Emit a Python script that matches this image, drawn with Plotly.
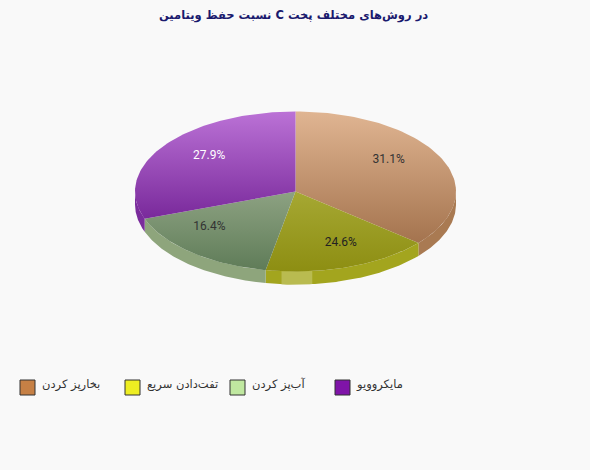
import numpy as np
import plotly.graph_objects as go

title = "در روش‌های مختلف پخت C نسبت حفظ ویتامین"
categories = ["بخارپز کردن", "تفت‌دادن سریع", "آب‌پز کردن", "مایکروویو"]
# percentages printed on the slices
percents = [31.1, 24.6, 16.4, 27.9]
# the tilted pie in the picture does not sweep in proportion to its labels,
# so these are the sweeps (degrees, clockwise from top)
sweeps = [130.0, 60.7, 59.3, 110.0]

legend_colors = ["#c68045", "#eeee22", "#c0e8a0", "#7f14a8"]
top_colors = [("#e0b592", "#a4734e"), ("#a6a833", "#8d8e12"), ("#8da282", "#5f7c58"), ("#bb72d6", "#79299b")]
wall_colors = ["#a97a52", "#a3a51e", "#8ea57c", "#7a2c9c"]
label_colors = ["#333333", "#222222", "#333333", "#ffffff"]

# pixel layout of the page
W, H = 590, 470
cx, cy, rx, ry, depth = 295.5, 191.5, 160.5, 80, 13
label_r = 0.7
legend_x = [27.5, 132.5, 237.5, 342.5]
legend_y = 387.5
legend_text_gap = 14.5
legend_text_y = 385.5


def rim(a0, a1):
    t = np.radians(np.linspace(a0, a1, 80))
    return cx + rx * np.sin(t), cy - ry * np.cos(t)


def wall(a0, a1):
    x, y = rim(a0, a1)
    return np.r_[x, x[::-1], x[0]], np.r_[y, y[::-1] + depth, y[0]]


fig = go.Figure()
edges = np.r_[0, np.cumsum(sweeps)]

# side of the pie first, only the front half shows
for i, c in enumerate(wall_colors):
    a0, a1 = max(edges[i], 90), min(edges[i + 1], 270)
    x, y = wall(a0, a1)
    fig.add_trace(go.Scatter(x=x, y=y, mode="lines", fill="toself", fillcolor=c,
                             line=dict(width=0), hoverinfo="skip"))

# the light reflection on the front of the side
x, y = wall(174, 185)
fig.add_trace(go.Scatter(x=x, y=y, mode="lines", fill="toself", fillcolor="#b9bb50",
                         line=dict(width=0), hoverinfo="skip"))

# top face
for i, (c0, c1) in enumerate(top_colors):
    x, y = rim(edges[i], edges[i + 1])
    fig.add_trace(go.Scatter(x=np.r_[cx, x, cx], y=np.r_[cy, y, cy], mode="lines", fill="toself",
                             fillgradient=dict(type="vertical", colorscale=[[0, c1], [1, c0]]),
                             line=dict(width=0), hoverinfo="skip"))

# slice labels sit at the angle of their percentage
mid = np.radians(3.6 * (np.cumsum(percents) - np.array(percents) / 2))
fig.add_trace(go.Scatter(x=cx + label_r * rx * np.sin(mid), y=cy - label_r * ry * np.cos(mid),
                         mode="text", text=[f"{p}%" for p in percents],
                         textfont=dict(family="Roboto", size=12, color=label_colors),
                         hoverinfo="skip"))

# legend
fig.add_trace(go.Scatter(x=legend_x, y=[legend_y] * 4, mode="markers",
                         marker=dict(symbol="square", size=15, color=legend_colors,
                                     line=dict(color="#333333", width=1)),
                         hoverinfo="skip"))
fig.add_trace(go.Scatter(x=[v + legend_text_gap for v in legend_x], y=[legend_text_y] * 4, mode="text",
                         text=[c + "\u200f" for c in categories],
                         textposition="middle right",
                         textfont=dict(family="DejaVu Sans", size=11.5, color="#333333"),
                         hoverinfo="skip"))

fig.update_layout(
    width=W, height=H, showlegend=False,
    margin=dict(l=0, r=0, t=0, b=0),
    paper_bgcolor="#f9f9f9", plot_bgcolor="#f9f9f9",
    xaxis=dict(range=[0, W], visible=False, fixedrange=True),
    yaxis=dict(range=[H, 0], visible=False, fixedrange=True),
    annotations=[dict(text=f"<b>\u202b{title}\u202c</b>", x=293, y=15, xref="x", yref="y", showarrow=False,
                      font=dict(family="DejaVu Sans", size=11.5, color="#1a1a6e"))],
)
fig.write_html("out.html", config=dict(displayModeBar=False),
               post_script="document.body.style.margin='0';document.body.style.background='#f9f9f9';")
